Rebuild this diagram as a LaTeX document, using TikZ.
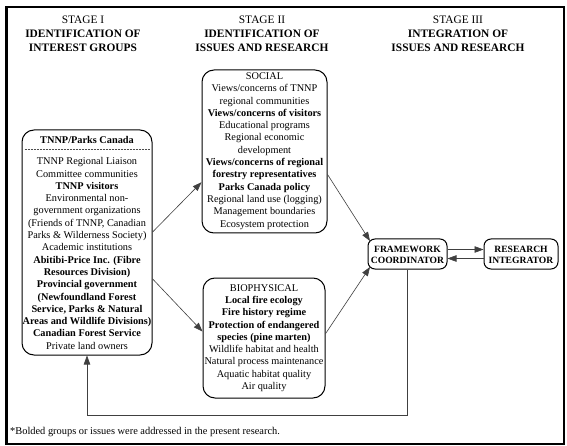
\documentclass[tikz,border=0pt]{standalone}
\usepackage{fontspec}
\setmainfont{Liberation Serif}
\usetikzlibrary{arrows.meta}
\begin{document}
\begin{tikzpicture}[x=1pt,y=-1pt,
  box/.style={draw,rounded corners=12pt,line width=1pt,inner sep=0pt},
  sbox/.style={draw,rounded corners=7pt,line width=1pt,inner sep=0pt},
  txt/.style={align=center,inner sep=0pt,font=\fontsize{10.3}{12.3}\selectfont},
  btxt/.style={align=center,inner sep=0pt,font=\fontsize{9.6}{11}\selectfont\bfseries},
  head/.style={align=center,inner sep=0pt,font=\fontsize{11.4}{14}\selectfont},
  conn/.style={draw=black!75,line width=0.6pt,-{Triangle[length=9pt,width=6.5pt]}},
]
\useasboundingbox (0,0) rectangle (567,446);
\fill[white] (0,0) rectangle (567,446);
% frame
\node[draw,line width=1.1pt,minimum width=557pt,minimum height=437pt,inner sep=0pt] (frame) at (285.5,225.5) {};
\draw[line width=2pt] (frame.north west) -- (frame.south west);

% headings
\node[head] (s1) at (83,34) {STAGE I\\\textbf{IDENTIFICATION OF}\\\textbf{INTEREST GROUPS}};
\node[head] (s2) at (262,34) {STAGE II\\\textbf{IDENTIFICATION OF}\\\textbf{ISSUES AND RESEARCH}};
\node[head] (s3) at (458,34) {STAGE III\\\textbf{INTEGRATION OF}\\\textbf{ISSUES AND RESEARCH}};

% stage I box
\node[box,minimum width=130pt,minimum height=225pt] (tnnp) at (87,242.5) {};
\node[txt,font=\fontsize{10.3}{12.3}\selectfont\bfseries] (tnnpt) at (87,140) {TNNP/Parks Canada};
\draw[densely dotted,line width=0.5pt,black!70] (tnnp.west |- tnnpt.south) ++(3,5) coordinate (sepl) -- ([xshift=-3pt]sepl -| tnnp.east);
\node[txt] (tnnpb) at (87,253.5) {TNNP Regional Liaison\\Committee communities\\\textbf{TNNP visitors}\\Environmental non-\\government organizations\\(Friends of TNNP, Canadian\\Parks \& Wilderness Society)\\Academic institutions\\\textbf{Abitibi-Price Inc. (Fibre}\\\textbf{Resources Division)}\\\textbf{Provincial government}\\\textbf{(Newfoundland Forest}\\\textbf{Service, Parks \& Natural}\\\textbf{Areas and Wildlife Divisions)}\\\textbf{Canadian Forest Service}\\Private land owners};

% stage II boxes
\node[box,minimum width=125pt,minimum height=163pt] (social) at (264.5,151.5) {};
\node[txt] (socialt) at (264.5,151) {SOCIAL\\Views/concerns of TNNP\\regional communities\\\textbf{Views/concerns of visitors}\\Educational programs\\Regional economic\\development\\\textbf{Views/concerns of regional}\\\textbf{forestry representatives}\\\textbf{Parks Canada policy}\\Regional land use (logging)\\Management boundaries\\Ecosystem protection};

\node[box,minimum width=122pt,minimum height=120pt] (bio) at (264,338) {};
\node[txt] (biot) at (264,338) {BIOPHYSICAL\\\textbf{Local fire ecology}\\\textbf{Fire history regime}\\\textbf{Protection of endangered}\\\textbf{species (pine marten)}\\Wildlife habitat and health\\Natural process maintenance\\Aquatic habitat quality\\Air quality};

% stage III boxes
\node[sbox,minimum width=79pt,minimum height=30pt] (fc) at (407.5,254) {};
\node[btxt] (fct) at (407.5,254.5) {FRAMEWORK\\COORDINATOR};
\node[sbox,minimum width=74pt,minimum height=30pt] (ri) at (521,254) {};
\node[btxt] (rit) at (521,254.5) {RESEARCH\\INTEGRATOR};

% connectors
\draw[conn] (tnnp.9) -- (social.206);
\draw[conn] (tnnp.-29.3) -- (bio.174.5);
\draw[conn] (social.-20.6) -- ([shift={(2.5pt,-2.5pt)}]fc.north west);
\draw[conn] (bio.4.7) -- ([shift={(2.5pt,2.5pt)}]fc.south west);
\draw[conn] ([yshift=4.5pt]fc.east) -- ([yshift=4.5pt]ri.west);
\draw[conn] ([yshift=-4.5pt]ri.west) -- ([yshift=-4.5pt]fc.east);
\coordinate (fbr) at (407.5,415);
\coordinate (fbl) at (87,415);
\draw[conn] (fc.south) -- (fbr) -- (fbl) -- (tnnp.south);

% footnote
\node[anchor=west,inner sep=0pt,font=\fontsize{10.4}{12}\selectfont] (note) at (10,432) {*Bolded groups or issues were addressed in the present research.};
\end{tikzpicture}
\end{document}
